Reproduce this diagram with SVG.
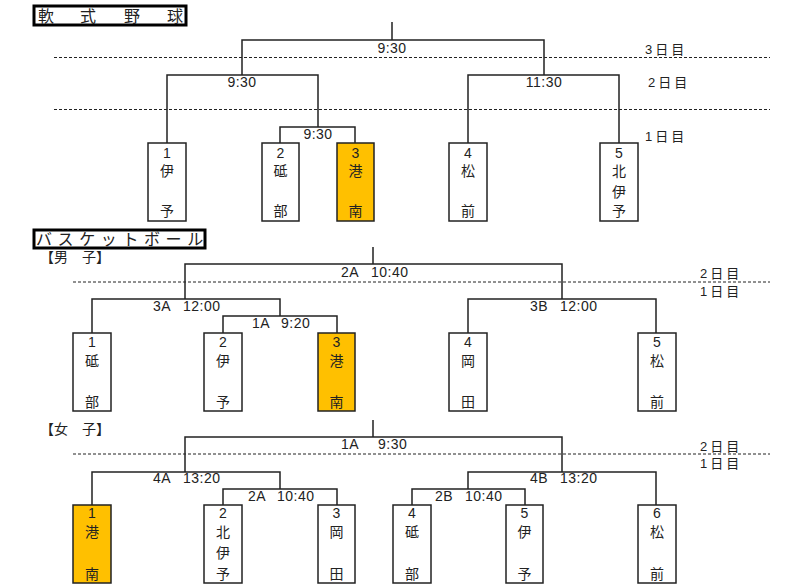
<svg xmlns="http://www.w3.org/2000/svg" width="800" height="588" viewBox="0 0 800 588">
<style>
.ln{stroke:#222;stroke-width:1.5;fill:none}
.ds{stroke:#222;stroke-width:1;stroke-dasharray:3 2;fill:none}
.bx{fill:#fff;stroke:#222;stroke-width:1.5}
.or{fill:#FFC000;stroke:#222;stroke-width:1.5}
.ttl{fill:#fff;stroke:#000;stroke-width:3}
text{font-family:"Liberation Sans","Noto Sans CJK JP",sans-serif;fill:#222}
.t{font-size:14px;letter-spacing:0.5px}
.n{font-size:14px;text-anchor:middle}
.c{font-size:14px;text-anchor:middle}
.d{font-size:13px;letter-spacing:3px}
.h{font-size:16px}
</style>
<rect width="800" height="588" fill="#fff"/>

<!-- Titles -->
<g id="title-softball">
<rect class="ttl" x="34" y="6" width="152" height="19"/>
<text class="h" y="21.5"><tspan x="38">軟</tspan><tspan x="80">式</tspan><tspan x="124">野</tspan><tspan x="167">球</tspan></text>
</g>
<g id="title-basket">
<rect class="ttl" x="34" y="230" width="171" height="18"/>
<text class="h" y="245" style="letter-spacing:5.6px"><tspan x="36">バスケットボール</tspan></text>
</g>
<text id="boys" x="40" y="262" style="font-size:14px">【男　子】</text>
<text id="girls" x="40" y="434" style="font-size:14px">【女　子】</text>

<!-- Connectors -->
<g id="connectors">
<path class="ln" d="M392 22V40M242 75V40H544V75M167 143V75H318V127M280 143V127H355V143M468 143V75H619V143"/>
<path class="ln" d="M373 247V264M185 299V264H562V299M92 333V299H280V316M223 333V316H337V333M468 333V299H656V333"/>
<path class="ln" d="M373 420V437M185 472V437H562V472M92 505V472H280V489M223 505V489H337V505M468 489V472H656V505M412 505V489H525V505"/>
<path class="ds" d="M54 57.5H770M54 109.5H770M73 282H770M73 454H770"/>
</g>

<!-- day labels -->
<g id="days">
<text class="d" x="645" y="54">3日目</text>
<text class="d" x="648" y="87">2日目</text>
<text class="d" x="645" y="141">1日目</text>
<text class="d" x="700" y="278">2日目</text>
<text class="d" x="700" y="296">1日目</text>
<text class="d" x="700" y="451">2日目</text>
<text class="d" x="700" y="468">1日目</text>
</g>

<!-- time labels -->
<g id="times">
<text class="t" x="392" y="53" text-anchor="middle">9:30</text>
<text class="t" x="242" y="87" text-anchor="middle">9:30</text>
<text class="t" x="544" y="87" text-anchor="middle">11:30</text>
<text class="t" x="318" y="139" text-anchor="middle">9:30</text>
<text class="t" y="277"><tspan x="341">2A</tspan><tspan x="371">10:40</tspan></text>
<text class="t" y="311"><tspan x="153">3A</tspan><tspan x="183">12:00</tspan></text>
<text class="t" y="328"><tspan x="252">1A</tspan><tspan x="281">9:20</tspan></text>
<text class="t" y="311"><tspan x="530">3B</tspan><tspan x="560">12:00</tspan></text>
<text class="t" y="449"><tspan x="341">1A</tspan><tspan x="378">9:30</tspan></text>
<text class="t" y="483"><tspan x="153">4A</tspan><tspan x="183">13:20</tspan></text>
<text class="t" y="501"><tspan x="248">2A</tspan><tspan x="277">10:40</tspan></text>
<text class="t" y="483"><tspan x="530">4B</tspan><tspan x="560">13:20</tspan></text>
<text class="t" y="501"><tspan x="435">2B</tspan><tspan x="465">10:40</tspan></text>
</g>

<!-- Softball nodes -->
<g id="sb1"><rect class="bx" x="148" y="143" width="38" height="78"/><text class="n" x="167" y="158">1</text><text class="c" x="167" y="176">伊</text><text class="c" x="167" y="216">予</text></g>
<g id="sb2"><rect class="bx" x="262" y="143" width="37" height="78"/><text class="n" x="280.5" y="158">2</text><text class="c" x="280.5" y="176">砥</text><text class="c" x="280.5" y="216">部</text></g>
<g id="sb3"><rect class="or" x="337" y="143" width="37" height="78"/><text class="n" x="355.5" y="158">3</text><text class="c" x="355.5" y="176">港</text><text class="c" x="355.5" y="216">南</text></g>
<g id="sb4"><rect class="bx" x="449" y="143" width="38" height="78"/><text class="n" x="468" y="158">4</text><text class="c" x="468" y="176">松</text><text class="c" x="468" y="216">前</text></g>
<g id="sb5"><rect class="bx" x="600" y="143" width="38" height="78"/><text class="n" x="619" y="158">5</text><text class="c" x="619" y="176">北</text><text class="c" x="619" y="197">伊</text><text class="c" x="619" y="216">予</text></g>

<!-- Boys nodes -->
<g id="bb1"><rect class="bx" x="73" y="333" width="38" height="78"/><text class="n" x="92" y="347">1</text><text class="c" x="92" y="366">砥</text><text class="c" x="92" y="407">部</text></g>
<g id="bb2"><rect class="bx" x="204" y="333" width="38" height="78"/><text class="n" x="223" y="347">2</text><text class="c" x="223" y="366">伊</text><text class="c" x="223" y="407">予</text></g>
<g id="bb3"><rect class="or" x="318" y="333" width="37" height="78"/><text class="n" x="336.5" y="347">3</text><text class="c" x="336.5" y="366">港</text><text class="c" x="336.5" y="407">南</text></g>
<g id="bb4"><rect class="bx" x="449" y="333" width="38" height="78"/><text class="n" x="468" y="347">4</text><text class="c" x="468" y="366">岡</text><text class="c" x="468" y="407">田</text></g>
<g id="bb5"><rect class="bx" x="638" y="333" width="38" height="78"/><text class="n" x="657" y="347">5</text><text class="c" x="657" y="366">松</text><text class="c" x="657" y="407">前</text></g>

<!-- Girls nodes -->
<g id="gb1"><rect class="or" x="73" y="505" width="38" height="78"/><text class="n" x="92" y="518">1</text><text class="c" x="92" y="537">港</text><text class="c" x="92" y="579">南</text></g>
<g id="gb2"><rect class="bx" x="204" y="505" width="38" height="78"/><text class="n" x="223" y="518">2</text><text class="c" x="223" y="537">北</text><text class="c" x="223" y="558">伊</text><text class="c" x="223" y="579">予</text></g>
<g id="gb3"><rect class="bx" x="318" y="505" width="37" height="78"/><text class="n" x="336.5" y="518">3</text><text class="c" x="336.5" y="537">岡</text><text class="c" x="336.5" y="579">田</text></g>
<g id="gb4"><rect class="bx" x="393" y="505" width="38" height="78"/><text class="n" x="412" y="518">4</text><text class="c" x="412" y="537">砥</text><text class="c" x="412" y="579">部</text></g>
<g id="gb5"><rect class="bx" x="506" y="505" width="37" height="78"/><text class="n" x="524.5" y="518">5</text><text class="c" x="524.5" y="537">伊</text><text class="c" x="524.5" y="579">予</text></g>
<g id="gb6"><rect class="bx" x="638" y="505" width="38" height="78"/><text class="n" x="657" y="518">6</text><text class="c" x="657" y="537">松</text><text class="c" x="657" y="579">前</text></g>
</svg>
